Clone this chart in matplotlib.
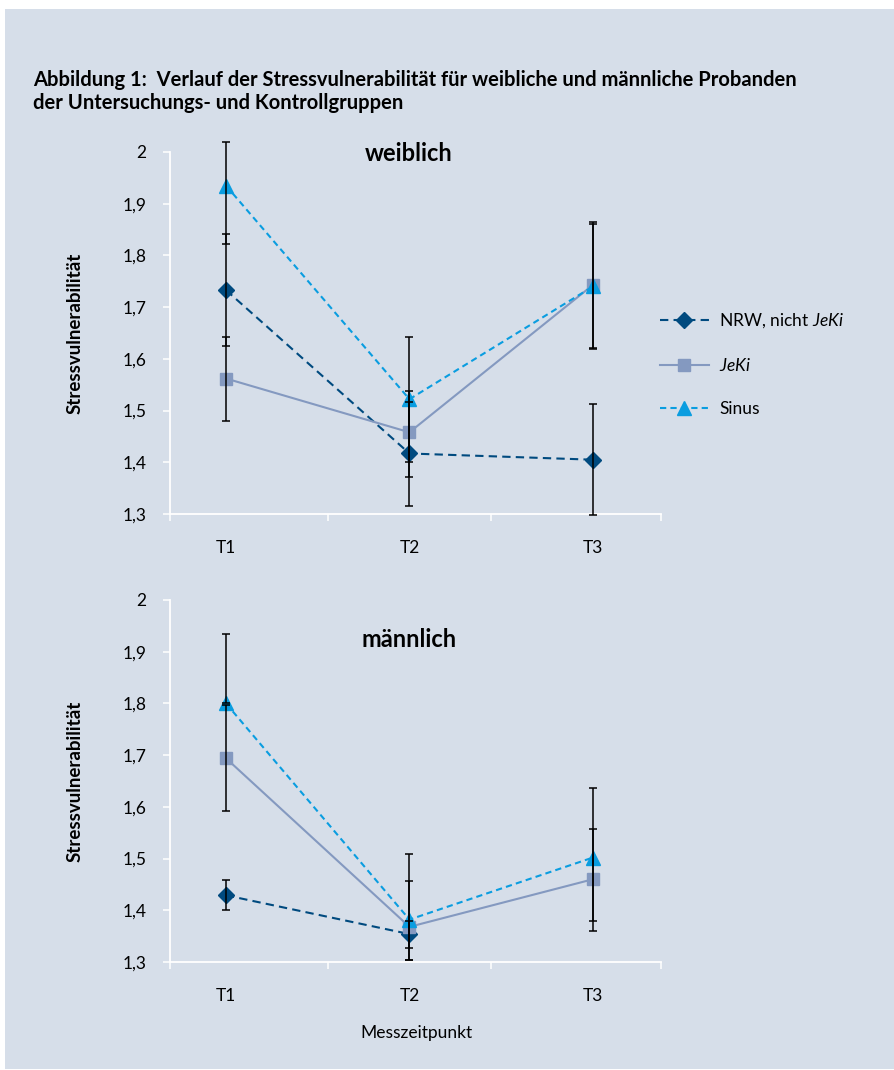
import numpy as np
import matplotlib
matplotlib.use('Agg')
import matplotlib.pyplot as plt
from matplotlib.patches import Rectangle
from matplotlib.lines import Line2D
from matplotlib.ticker import FuncFormatter

plt.rcParams['font.family'] = ['Lato', 'DejaVu Sans']
plt.rcParams['mathtext.fontset'] = 'custom'
plt.rcParams['mathtext.rm'] = 'Lato'
plt.rcParams['mathtext.it'] = 'Lato:italic'

# Messzeitpunkte
zeitpunkte = ['T1', 'T2', 'T3']

# weiblich: Mittelwerte und Fehlerbalken (unten / oben)
nrw_w = [1.733, 1.417, 1.405]
nrw_w_lo = [0.108, 0.102, 0.107]
nrw_w_hi = [0.108, 0.100, 0.107]
jeki_w = [1.562, 1.458, 1.743]
jeki_w_lo = [0.082, 0.087, 0.122]
jeki_w_hi = [0.080, 0.080, 0.122]
sinus_w = [1.935, 1.522, 1.740]
sinus_w_lo = [0.113, 0.121, 0.120]
sinus_w_hi = [0.085, 0.121, 0.120]

# männlich (NRW ohne Wert zu T3)
nrw_m = [1.429, 1.354, np.nan]
nrw_m_lo = [0.029, 0.026, 0.0]
nrw_m_hi = [0.029, 0.026, 0.0]
jeki_m = [1.694, 1.368, 1.460]
jeki_m_lo = [0.102, 0.064, 0.080]
jeki_m_hi = [0.102, 0.088, 0.098]
sinus_m = [1.800, 1.382, 1.502]
sinus_m_lo = [0.0, 0.078, 0.142]
sinus_m_hi = [0.135, 0.127, 0.134]

BG = '#d6dee9'
C_NRW = '#004a7f'
C_JEKI = '#8499c0'
C_SINUS = '#0a9de0'

styles = {
    'nrw': dict(color=C_NRW, marker='D', ms=8.5, ls=(0, (4, 2.5)), lw=1.5),
    'jeki': dict(color=C_JEKI, marker='s', ms=9, ls='-', lw=1.5),
    'sinus': dict(color=C_SINUS, marker='^', ms=10, ls=(0, (3, 2)), lw=1.5),
}

W, H = 894, 1070
fig = plt.figure(figsize=(W / 100, H / 100), dpi=100)
fig.patch.set_facecolor('white')
fig.patches.append(Rectangle((5 / W, 1 / H), 1 - 5 / W, 1 - 10 / H,
                             transform=fig.transFigure, facecolor=BG,
                             edgecolor='none', zorder=-10))

fig.text(33 / W, 1 - 70 / H,
         'Abbildung 1:  Verlauf der Stressvulnerabilität für weibliche und männliche Probanden\n'
         'der Untersuchungs- und Kontrollgruppen',
         fontsize=14.5, fontweight='bold', va='top', ha='left', linespacing=1.2)

x = np.arange(len(zeitpunkte))


def y_fmt(v, pos):
    if abs(v - round(v)) < 1e-6:
        return f'{int(round(v))}'
    return f'{v:.1f}'.replace('.', ',')


def draw_panel(ax, title, title_y, series):
    ax.set_facecolor('none')
    for vals, lo, hi, key in series:
        st = styles[key]
        ax.plot(x, vals, color=st['color'], ls=st['ls'], lw=st['lw'],
                marker=st['marker'], ms=st['ms'], mec=st['color'], zorder=3)
        eb = ax.errorbar(x, vals, yerr=[lo, hi], fmt='none', ecolor='black',
                         elinewidth=1.1, capsize=3, capthick=1.1, zorder=4)
        # Fehlerbalken dürfen über den Achsenbereich hinausragen
        for art in eb.lines[1] + eb.lines[2]:
            art.set_clip_on(False)
    ax.set_ylim(1.3, 2.0)
    ax.set_xlim(-0.305, 2.371)
    ax.set_yticks(np.arange(1.3, 2.01, 0.1))
    ax.yaxis.set_major_formatter(FuncFormatter(y_fmt))
    ax.set_xticks(x)
    ax.set_xticklabels(zeitpunkte)
    ax.set_xticks([-0.305, 0.556, 1.444, 2.371], minor=True)
    ax.tick_params(axis='x', which='major', length=0, pad=19, labelsize=12.5)
    ax.tick_params(axis='x', which='minor', length=5, width=1.1, color='white', direction='out')
    ax.tick_params(axis='y', length=5, width=1.1, color='white', direction='out',
                   pad=12, labelsize=12.5)
    for side in ('top', 'right'):
        ax.spines[side].set_visible(False)
    for side in ('left', 'bottom'):
        ax.spines[side].set_color('white')
        ax.spines[side].set_linewidth(1.3)
    ax.set_ylabel('Stressvulnerabilität', fontsize=13.5, fontweight='bold')
    ax.yaxis.set_label_coords(-0.177, 0.5)
    ax.text(0.487, title_y, title, transform=ax.transAxes, ha='center', va='center',
            fontsize=17, fontweight='bold')


ax_top = fig.add_axes([170 / W, 1 - 514 / H, 491 / W, 362 / H])
ax_bot = fig.add_axes([170 / W, 1 - 962 / H, 491 / W, 362 / H])

draw_panel(ax_top, 'weiblich', 0.997, [
    (nrw_w, nrw_w_lo, nrw_w_hi, 'nrw'),
    (jeki_w, jeki_w_lo, jeki_w_hi, 'jeki'),
    (sinus_w, sinus_w_lo, sinus_w_hi, 'sinus'),
])
draw_panel(ax_bot, 'männlich', 0.892, [
    (nrw_m, nrw_m_lo, nrw_m_hi, 'nrw'),
    (jeki_m, jeki_m_lo, jeki_m_hi, 'jeki'),
    (sinus_m, sinus_m_lo, sinus_m_hi, 'sinus'),
])

handles = [Line2D([], [], color=styles[k]['color'], ls=styles[k]['ls'], lw=1.5,
                  marker=styles[k]['marker'], ms=styles[k]['ms'])
           for k in ('nrw', 'jeki', 'sinus')]
labels = [r'NRW, nicht $\it{JeKi}$', r'$\it{JeKi}$', 'Sinus']
fig.legend(handles, labels, loc='center left', bbox_to_anchor=(660 / W, 1 - 364 / H),
           frameon=False, fontsize=12.5, handlelength=2.8, handletextpad=0.6,
           labelspacing=1.55, borderpad=0, borderaxespad=0)

fig.text(416 / W, 1 - 1033 / H, 'Messzeitpunkt', ha='center', va='center', fontsize=12.5)

fig.savefig('out.png', dpi=100, facecolor=fig.get_facecolor())
